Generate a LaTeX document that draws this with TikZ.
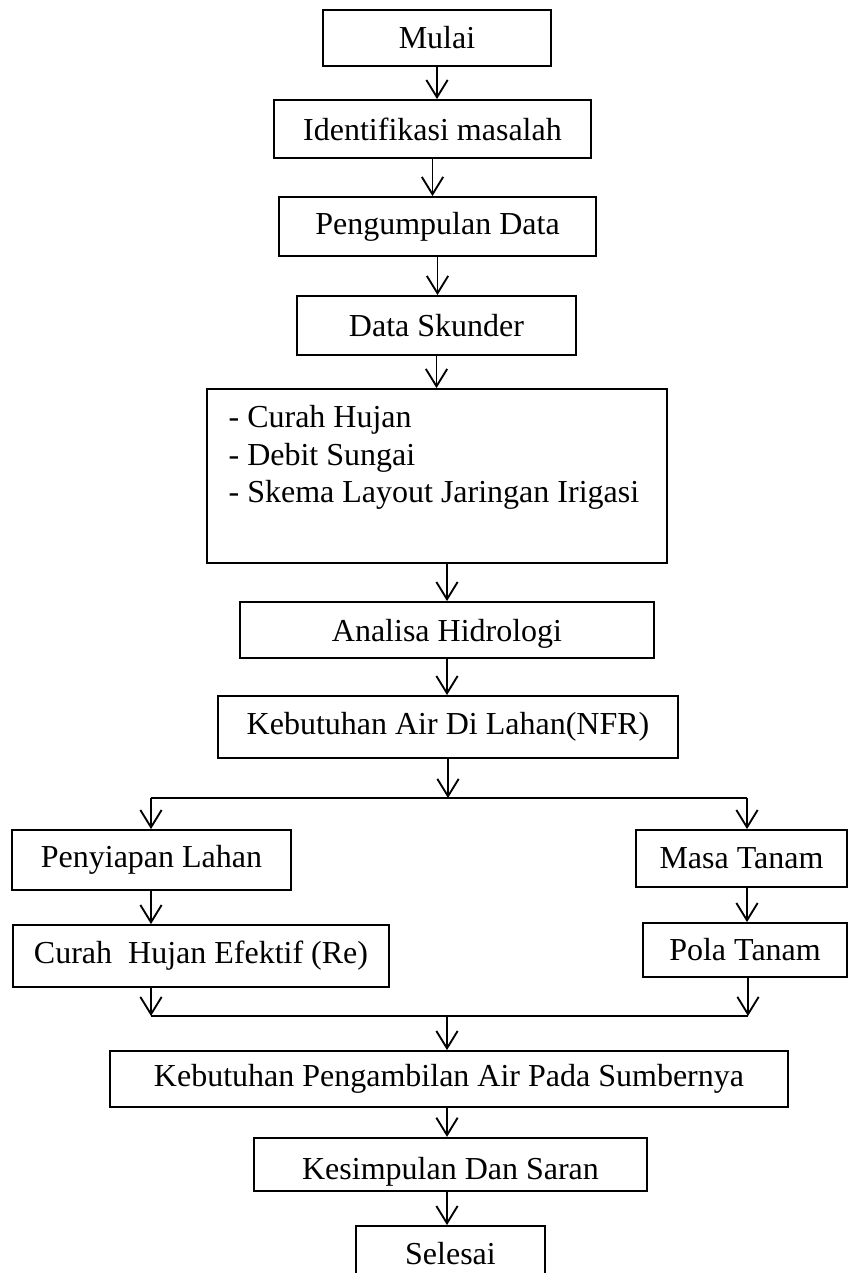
\documentclass[tikz,border=0pt]{standalone}
\usepackage{fontspec}
\setmainfont{Liberation Serif}
\usetikzlibrary{arrows.meta,positioning,calc}
\tikzset{
  font=\fontsize{12}{14}\selectfont,
  kotak/.style ={draw, line width=0.7pt, align=center, inner sep=2pt},
  ukuran/.style 2 args={minimum width=#1*0.375pt, minimum height=#2*0.375pt},
  panah/.style ={-{Straight Barb[length=6.5pt, width=8pt, line width=0.7pt]}, line width=0.7pt},
  garis/.style ={line width=0.7pt},
}
\begin{document}
\begin{tikzpicture}[x=0.375pt, y=-0.375pt]
  \useasboundingbox (0,0) rectangle (849,1273);

  % alur utama
  \node[kotak, ukuran={228}{56}] (mulai)   at (437,38)      {Mulai};
  \node[kotak, ukuran={317}{58}] (ident)   at (432.5,129)   {Identifikasi masalah};
  \node[kotak, ukuran={317}{59}] (kumpul)  at (437.5,226.5) {Pengumpulan Data};
  \node[kotak, ukuran={279}{59}] (skunder) at (436.5,325.5) {Data Skunder};
  \node[kotak, ukuran={460}{174}] (daftar) at (437,476)     {};
  \node[anchor=north west, align=left, inner sep=0pt] (daftarteks)
        at ([shift={(22,17)}]daftar.north west)
        {- Curah Hujan\\- Debit Sungai\\- Skema Layout Jaringan Irigasi};
  \node[kotak, ukuran={414}{56}, text height=11pt] (analisa) at (447,630) {Analisa Hidrologi};
  \node[kotak, ukuran={460}{62}] (nfr)     at (448,727)     {Kebutuhan Air Di Lahan(NFR)};

  \draw[panah] (mulai.south)   -- (mulai.south |- ident.north);
  \draw[panah] (ident.south)   -- (ident.south |- kumpul.north);
  \draw[panah] (kumpul.south)  -- (kumpul.south |- skunder.north);
  \draw[panah] (skunder.south) -- (skunder.south |- daftar.north);
  \draw[panah] (daftar.south -| analisa.north) -- (analisa.north);
  \draw[panah] (analisa.south) -- (analisa.south |- nfr.north);

  % dua cabang
  \node[kotak, ukuran={279}{60}] (siap)    at (151.5,860)   {Penyiapan Lahan};
  \node[kotak, ukuran={376}{62}] (efektif) at (201,956)     {Curah\ \ Hujan Efektif (Re)};
  \node[kotak, ukuran={211}{57}] (masa)    at (741.5,858.5) {Masa Tanam};
  \node[kotak, ukuran={204}{54}] (pola)    at (745,950)     {Pola Tanam};

  \coordinate (cabangKiri)  at (151,798);
  \coordinate (cabangKanan) at (747,798);
  \coordinate (cabang)      at (nfr.south |- cabangKiri);
  \draw[garis] (cabangKiri) -- (cabangKanan);
  \draw[panah] (nfr.south) -- (cabang);
  \draw[panah] (cabangKiri) -- (cabangKiri |- siap.north);
  \draw[panah] (cabangKanan) -- (cabangKanan |- masa.north);
  \draw[panah] (cabangKiri |- siap.south) -- (cabangKiri |- efektif.north);
  \draw[panah] (cabangKanan |- masa.south) -- (cabangKanan |- pola.north);

  \coordinate (gabungKiri)  at (151,1016);
  \coordinate (gabungKanan) at (748,1016);
  \draw[garis] (gabungKiri) -- (gabungKanan);
  \draw[panah] (cabangKiri |- efektif.south) -- (gabungKiri);
  \draw[panah] (gabungKanan |- pola.south) -- (gabungKanan);

  % penutup
  \node[kotak, ukuran={678}{56}] (sumber)  at (449,1079)    {Kebutuhan Pengambilan Air Pada Sumbernya};
  \node[kotak, ukuran={393}{51}, text height=13.5pt] (simpul) at (450.5,1164.5) {Kesimpulan Dan Saran};
  \node[kotak, ukuran={189}{56}] (selesai) at (450.5,1254)  {Selesai};

  \coordinate (gabung) at (447,1016);
  \draw[panah] (gabung) -- (gabung |- sumber.north);
  \draw[panah] (sumber.south -| gabung) -- (gabung |- simpul.north);
  \draw[panah] (simpul.south -| gabung) -- (gabung |- selesai.north);
\end{tikzpicture}
\end{document}
